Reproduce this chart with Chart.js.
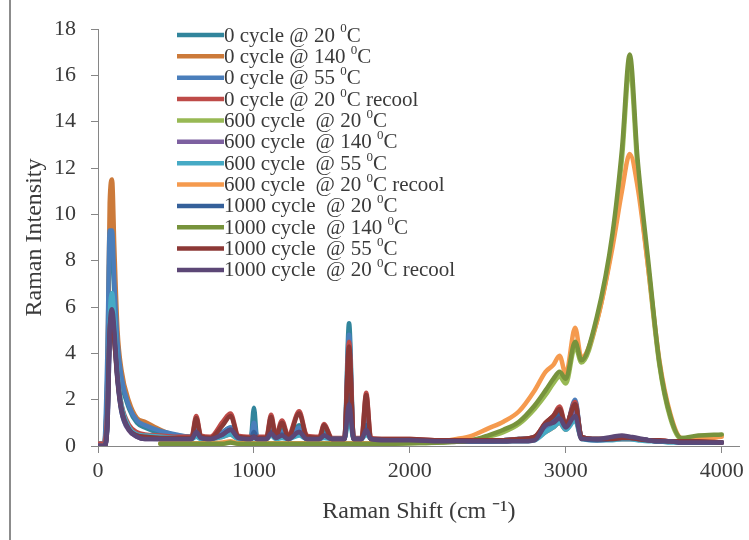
<!DOCTYPE html>
<html>
<head>
<meta charset="utf-8">
<script src="https://cdn.jsdelivr.net/npm/chart.js@4.4.1/dist/chart.umd.min.js"></script>
<style>
  body { margin: 0; background: #fff; }
  #wrap { position: relative; width: 749px; height: 540px; }
  #frame { position: absolute; left: 9px; top: 0; width: 2px; height: 540px; background: #8c8c8c; }
  #chart { position: absolute; left: 0; top: 0; }
</style>
</head>
<body>
<div id="wrap">
  <div id="frame"></div>
  <canvas id="chart" width="749" height="540"></canvas>
</div>
<script>
// Raman shift grid (cm-1) shared by all series
var shifts = [0, 40, 60, 75, 90, 105, 125, 150, 200, 250,
              300, 400, 500, 600, 630, 660, 720, 800, 850, 900,
              980, 1000, 1020, 1080, 1110, 1140, 1180, 1220, 1290, 1340,
              1420, 1450, 1500, 1580, 1610, 1640, 1690, 1720, 1750, 1850,
              2000, 2200, 2300, 2400, 2500, 2600, 2700, 2800, 2870, 2920,
              2960, 3000, 3060, 3100, 3200, 3300, 3360, 3410, 3460, 3530,
              3600, 3670, 3740, 3850, 4000];

var xTicks = [0, 1000, 2000, 3000, 4000];

var labels = ['0 cycle @ 20 ⁰C', '0 cycle @ 140 ⁰C', '0 cycle @ 55 ⁰C', '0 cycle @ 20 ⁰C recool',
              '600 cycle  @ 20 ⁰C', '600 cycle  @ 140 ⁰C', '600 cycle  @ 55 ⁰C', '600 cycle  @ 20 ⁰C recool',
              '1000 cycle  @ 20 ⁰C', '1000 cycle  @ 140 ⁰C', '1000 cycle  @ 55 ⁰C', '1000 cycle  @ 20 ⁰C recool'];

var colors = ['#31859C', '#CC7A3A', '#4A7EBB', '#BE4B48', '#98B954', '#7D60A0',
              '#46AAC5', '#F59A4E', '#35609A', '#77933C', '#8C3836', '#5C4776'];

var c0_20 = [0.1,0.1,3.0,8.5,8.8,6.5,4.2,2.8,1.6,1.0,
             0.8,0.55,0.45,0.4,0.9,0.4,0.35,0.6,0.8,0.4,
             0.35,1.65,0.35,0.35,0.9,0.4,0.7,0.35,0.9,0.35,
             0.3,0.6,0.3,0.3,5.3,0.3,0.3,1.4,0.3,0.25,
             0.25,0.2,0.2,0.2,0.2,0.25,0.3,0.4,0.8,1.0,
             1.2,0.8,1.9,0.4,0.3,0.3,0.3,0.3,0.3,0.25,
             0.2,0.2,0.2,0.15,0.15];
var c0_140 = [0.1,0.1,3.0,10.5,11.5,8.5,5.0,3.3,1.9,1.2,
              1.05,0.7,0.45,0.35,0.5,0.35,0.3,0.4,0.5,0.3,
              0.3,0.5,0.3,0.3,0.5,0.3,0.4,0.3,0.6,0.3,
              0.3,0.4,0.3,0.3,2.5,0.3,0.3,0.8,0.3,0.25,
              0.25,0.2,0.2,0.2,0.2,0.2,0.25,0.3,0.6,0.8,
              1.0,0.7,1.2,0.35,0.3,0.3,0.3,0.3,0.3,0.25,
              0.2,0.2,0.2,0.15,0.15];
var c0_55 = [0.1,0.1,4.0,9.3,9.3,7.0,4.5,3.0,1.7,1.1,
             0.9,0.65,0.5,0.4,0.8,0.4,0.35,0.6,0.8,0.4,
             0.35,1.0,0.35,0.35,0.8,0.4,0.6,0.35,0.8,0.35,
             0.3,0.5,0.3,0.3,4.8,0.3,0.3,1.2,0.3,0.25,
             0.25,0.2,0.2,0.2,0.2,0.25,0.3,0.4,0.8,1.1,
             1.3,0.8,2.0,0.4,0.3,0.3,0.3,0.3,0.3,0.25,
             0.2,0.2,0.2,0.15,0.15];
var c0_recool = [0.1,0.1,1.5,5.0,5.5,4.5,3.0,1.8,0.9,0.6,
                 0.5,0.45,0.4,0.4,1.3,0.45,0.4,1.05,1.4,0.45,
                 0.4,0.5,0.4,0.4,1.35,0.45,1.1,0.45,1.5,0.45,
                 0.4,0.95,0.35,0.35,4.5,0.35,0.35,2.3,0.35,0.3,
                 0.3,0.25,0.25,0.25,0.25,0.25,0.3,0.4,1.0,1.3,
                 1.7,0.9,1.9,0.4,0.3,0.3,0.35,0.35,0.3,0.25,
                 0.25,0.2,0.2,0.2,0.15];
var c600_20 = [null,null,null,null,null,null,null,null,null,null,
               null,0.1,0.1,0.1,0.1,0.1,0.1,0.1,0.15,0.1,
               0.1,0.1,0.1,0.1,0.1,0.1,0.1,0.1,0.1,0.1,
               0.1,0.1,0.1,0.1,0.1,0.1,0.1,0.1,0.1,0.1,
               0.12,0.15,0.2,0.25,0.4,0.6,0.95,1.6,2.2,2.7,
               3.0,2.7,4.3,3.6,5.4,8.9,12.4,16.4,12.0,7.6,
               3.5,1.2,0.3,0.4,0.45];
var c600_140 = [0,0,0.8,4.6,5.6,4.8,2.9,1.5,0.65,0.4,
                0.3,0.3,0.3,0.3,0.5,0.35,0.3,0.5,0.65,0.35,
                0.3,0.4,0.3,0.3,0.55,0.35,0.45,0.3,0.6,0.3,
                0.3,0.45,0.3,0.3,1.8,0.3,0.3,0.7,0.3,0.25,
                0.25,0.2,0.2,0.2,0.2,0.2,0.25,0.3,0.9,1.1,
                1.3,0.9,1.5,0.35,0.25,0.3,0.35,0.35,0.3,0.25,
                0.2,0.2,0.15,0.15,0.15];
var c600_55 = [0,0,1.0,5.5,6.6,5.5,3.2,1.8,0.8,0.5,
               0.45,0.4,0.35,0.3,0.4,0.3,0.3,0.4,0.5,0.3,
               0.3,0.35,0.3,0.3,0.45,0.3,0.35,0.3,0.45,0.3,
               0.3,0.35,0.3,0.3,1.2,0.3,0.3,0.5,0.3,0.25,
               0.2,0.2,0.2,0.2,0.2,0.2,0.2,0.25,0.6,0.8,
               1.0,0.7,1.1,0.3,0.25,0.25,0.3,0.3,0.25,0.2,
               0.2,0.15,0.15,0.15,0.15];
var c600_recool = [null,null,null,null,null,null,null,null,null,null,
                   null,0.12,0.12,0.12,0.12,0.12,0.12,0.15,0.2,0.12,
                   0.12,0.12,0.12,0.12,0.12,0.12,0.12,0.12,0.12,0.12,
                   0.12,0.12,0.12,0.12,0.12,0.12,0.12,0.12,0.12,0.15,
                   0.15,0.2,0.3,0.45,0.75,1.05,1.5,2.4,3.2,3.5,
                   3.9,3.1,5.1,3.8,5.4,8.6,11.0,12.6,11.2,7.6,
                   3.7,1.4,0.35,0.3,0.4];
var c1000_20 = [0,0,0.8,4.5,5.3,4.5,2.8,1.5,0.7,0.45,
                0.35,0.3,0.3,0.3,0.6,0.35,0.3,0.5,0.7,0.35,
                0.3,0.6,0.3,0.3,0.6,0.35,0.5,0.3,0.6,0.3,
                0.3,0.45,0.3,0.3,2.2,0.3,0.3,0.9,0.3,0.25,
                0.25,0.2,0.2,0.2,0.2,0.2,0.25,0.3,0.9,1.1,
                1.4,0.9,1.8,0.35,0.25,0.3,0.35,0.35,0.3,0.25,
                0.2,0.2,0.15,0.15,0.15];
var c1000_140 = [null,null,null,null,null,null,null,null,null,null,
                 null,0.1,0.1,0.1,0.1,0.1,0.1,0.1,0.15,0.1,
                 0.1,0.1,0.1,0.1,0.1,0.1,0.1,0.1,0.1,0.1,
                 0.1,0.1,0.1,0.1,0.1,0.1,0.1,0.1,0.1,0.1,
                 0.12,0.15,0.18,0.25,0.45,0.7,1.05,1.75,2.4,2.9,
                 3.2,2.9,4.5,3.7,5.6,9.2,12.8,16.9,12.4,7.9,
                 3.6,1.3,0.35,0.45,0.5];
var c1000_55 = [0,0,1.0,5.0,5.6,4.6,2.9,1.6,0.7,0.45,
                0.4,0.35,0.35,0.35,1.2,0.4,0.35,0.9,1.3,0.4,
                0.35,0.4,0.35,0.35,1.25,0.4,1.0,0.4,1.4,0.4,
                0.35,0.9,0.3,0.3,4.3,0.3,0.3,2.2,0.3,0.3,
                0.3,0.25,0.25,0.25,0.25,0.25,0.3,0.4,1.0,1.3,
                1.6,0.9,1.8,0.4,0.3,0.3,0.35,0.35,0.3,0.25,
                0.25,0.2,0.2,0.2,0.15];
var c1000_recool = [0,0,1.0,5.0,5.9,5.0,3.0,1.6,0.7,0.4,
                    0.3,0.3,0.3,0.3,0.6,0.35,0.3,0.5,0.7,0.35,
                    0.3,0.4,0.3,0.3,0.55,0.35,0.45,0.3,0.6,0.3,
                    0.3,0.45,0.3,0.3,1.8,0.3,0.3,0.7,0.3,0.25,
                    0.25,0.2,0.2,0.2,0.2,0.2,0.2,0.25,0.9,1.0,
                    1.2,0.8,1.3,0.3,0.3,0.4,0.45,0.4,0.35,0.25,
                    0.2,0.2,0.15,0.15,0.15];

var series = [c0_20, c0_140, c0_55, c0_recool, c600_20, c600_140,
              c600_55, c600_recool, c1000_20, c1000_140, c1000_55, c1000_recool];

var axisColor = '#868686';
var textColor = '#3a3a3a';
var serif = 'Liberation Serif, Times New Roman, serif';

var datasets = series.map(function (vals, i) {
    return {
        label: labels[i],
        data: vals.map(function (v, k) { return {x: shifts[k], y: v}; }),
        borderColor: colors[i],
        backgroundColor: colors[i],
        borderWidth: 4.5,
        pointRadius: 0,
        cubicInterpolationMode: 'monotone',
        borderJoinStyle: 'round',
        borderCapStyle: 'round',
        spanGaps: false,
        order: series.length - 1 - i   // later series on top, like Excel
    };
});

// legend drawn inside the plot, with superscript degree zero
var insideLegend = {
    id: 'insideLegend',
    afterDraw: function (chart) {
        var c = chart.ctx;
        chart.data.datasets.forEach(function (ds, i) {
            var y = 35 + i * 21.36;
            c.save();
            c.strokeStyle = ds.borderColor;
            c.lineWidth = 4.5;
            c.beginPath();
            c.moveTo(177, y);
            c.lineTo(224, y);
            c.stroke();
            c.fillStyle = textColor;
            c.textBaseline = 'middle';
            c.textAlign = 'left';
            var parts = ds.label.split('⁰');
            var x = 224;
            c.font = '21px ' + serif;
            c.fillText(parts[0], x, y + 1);
            x += c.measureText(parts[0]).width;
            if (parts.length > 1) {
                c.font = '13px ' + serif;
                c.fillText('0', x, y - 6);
                x += c.measureText('0').width;
                c.font = '21px ' + serif;
                c.fillText(parts[1], x, y + 1);
            }
            c.restore();
        });
    }
};

new Chart(document.getElementById('chart'), {
    type: 'line',
    data: {datasets: datasets},
    options: {
        responsive: false,
        animation: false,
        layout: {padding: {top: 29, right: 9, left: 0, bottom: 0}},
        plugins: {
            legend: {display: false},
            tooltip: {enabled: false}
        },
        scales: {
            x: {
                type: 'linear',
                min: 0,
                max: 4115,
                afterBuildTicks: function (s) {
                    s.ticks = xTicks.map(function (v) { return {value: v}; });
                },
                afterFit: function (s) { s.height = 94; },
                ticks: {padding: 5, maxRotation: 0, autoSkip: false,
                        callback: function (v) { return String(v); },
                        color: textColor, font: {family: serif, size: 22}},
                grid: {drawOnChartArea: false, drawTicks: true, tickLength: 7, color: axisColor},
                border: {color: axisColor, width: 1},
                title: {display: true, text: 'Raman Shift (cm ⁻¹)', color: textColor,
                        font: {family: serif, size: 24}, padding: {top: 0, bottom: 14}}
            },
            y: {
                min: 0,
                max: 18,
                afterFit: function (s) { s.width = 98; },
                ticks: {stepSize: 2, padding: 15, color: textColor, font: {family: serif, size: 22}},
                grid: {drawOnChartArea: false, drawTicks: true, tickLength: 7, color: axisColor},
                border: {color: axisColor, width: 1},
                title: {display: true, text: 'Raman Intensity', color: textColor,
                        font: {family: serif, size: 24}, padding: {top: 20, bottom: 0}}
            }
        }
    },
    plugins: [insideLegend]
});
</script>
</body>
</html>
